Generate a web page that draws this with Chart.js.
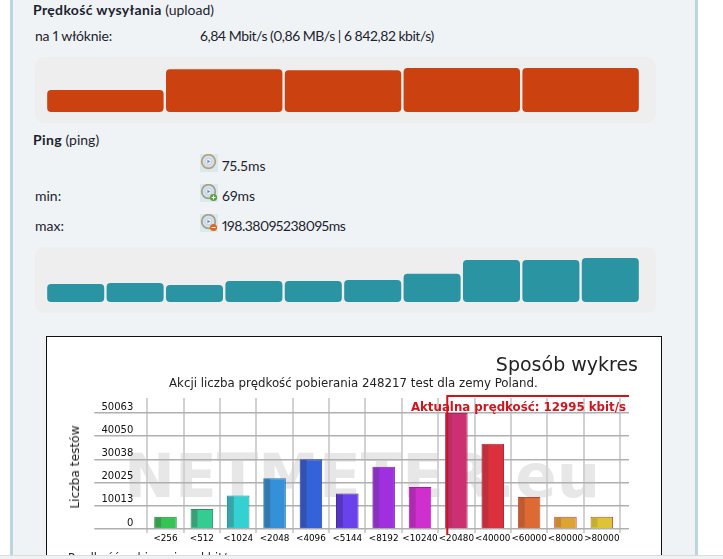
<!DOCTYPE html>
<html lang="pl">
<head>
<meta charset="utf-8">
<title>Prędkość</title>
<script src="https://cdn.jsdelivr.net/npm/chart.js@4/dist/chart.umd.min.js"></script>
<style>
html, body { margin: 0; padding: 0; background: #fff; overflow: hidden; }
#page { position: relative; width: 723px; height: 559px; overflow: hidden; background: #fff;
  font-family: Lato, sans-serif; font-size: 14px; color: #1c2330; font-variant-numeric: proportional-nums; }
#panel { position: absolute; left: 10px; top: 0; width: 682px; height: 559px; background: #eff3f5;
  border-left: 3px solid #bcd4dc; border-right: 3px solid #bcd4dc; }
.t { position: absolute; white-space: nowrap; line-height: 18px; }
.t b { letter-spacing: 0.35px; }
.box { position: absolute; left: 35px; width: 621px; height: 66px; background: #eeeeee; border-radius: 9px; }
.wrap { position: absolute; }
.ico { position: absolute; left: 200px; width: 18px; height: 18px; background: #d6eaef; }
#img { position: absolute; left: 46px; top: 336px; width: 616px; height: 240px; background: #fff;
  border: 1px solid #111; box-sizing: border-box; overflow: hidden; }
#mark { position: absolute; left: 124px; top: 441px; font: bold 61px "DejaVu Sans"; color: #e7e7e7; white-space: nowrap; line-height: 70px; }
.d { font-family: "DejaVu Sans"; color: #222; }
#ytitle { position: absolute; left: 75px; top: 467px; font-size: 12.2px; transform: translate(-50%, -50%) rotate(-90deg); }
#strip { position: absolute; left: 0; top: 555px; width: 723px; height: 4px; background: #f0f1f2; border-top: 1px solid #dcdcdc; }
</style>
</head>
<body>
<div id="page">
  <div id="panel"></div>

  <div class="t" style="left:33px;top:1px"><b>Prędkość wysyłania</b> (upload)</div>
  <div class="t" style="left:35px;top:27px;letter-spacing:-0.2px">na 1 włóknie:</div>
  <div class="t" style="left:200px;top:27px;letter-spacing:-0.48px">6,84 Mbit/s (0,86 MB/s | 6 842,82 kbit/s)</div>
  <div class="box" style="top:57px"></div>
  <div class="wrap" style="left:46px;top:57px;width:594px;height:55px"><canvas id="uploadChart"></canvas></div>

  <div class="t" style="left:33px;top:131px"><b>Ping</b> (ping)</div>
  <svg class="ico" style="top:154px" viewBox="0 0 18 18"><circle cx="8.5" cy="7.5" r="6.8" fill="#d3e0ee" stroke="#b8a27a" stroke-width="1.8"/><circle cx="8.5" cy="7.5" r="3.2" fill="#eef3f9" stroke="#a9bcd2" stroke-width="0.6"/><path d="M7.4 5.8l3 1.7-3 1.7z" fill="#76879c"/></svg>
  <div class="t" style="left:222px;top:157px">75.5ms</div>
  <div class="t" style="left:35px;top:187px">min:</div>
  <svg class="ico" style="top:184px" viewBox="0 0 18 18"><circle cx="8.5" cy="7.5" r="6.8" fill="#d3e0ee" stroke="#a89f86" stroke-width="1.8"/><circle cx="8.5" cy="7.5" r="3.2" fill="#eef3f9" stroke="#a9bcd2" stroke-width="0.6"/><path d="M7.4 5.8l3 1.7-3 1.7z" fill="#76879c"/><circle cx="13.5" cy="13.5" r="3.6" fill="#5c9e3c"/><path d="M11.5 13.5h4M13.5 11.5v4" stroke="#fff"/></svg>
  <div class="t" style="left:222px;top:187px">69ms</div>
  <div class="t" style="left:35px;top:217px">max:</div>
  <svg class="ico" style="top:214px" viewBox="0 0 18 18"><circle cx="8.5" cy="7.5" r="6.8" fill="#d3e0ee" stroke="#a89f86" stroke-width="1.8"/><circle cx="8.5" cy="7.5" r="3.2" fill="#eef3f9" stroke="#a9bcd2" stroke-width="0.6"/><path d="M7.4 5.8l3 1.7-3 1.7z" fill="#76879c"/><circle cx="13.5" cy="13.5" r="3.6" fill="#e2651f"/><path d="M11.5 13.5h4" stroke="#fff"/></svg>
  <div class="t" style="left:222px;top:217px;letter-spacing:-0.5px">198.38095238095ms</div>
  <div class="box" style="top:247px"></div>
  <div class="wrap" style="left:46px;top:247px;width:594px;height:55px"><canvas id="pingChart"></canvas></div>

  <div id="img"></div>
  <div id="mark">NETMETER.eu</div>
  <div class="wrap" style="left:46px;top:337px;width:614px;height:222px"><canvas id="mainChart"></canvas></div>
  <div class="t d" style="right:85px;top:352px;font-size:19px;line-height:24px">Sposób wykres</div>
  <div class="t d" style="left:169px;top:374px;font-size:11.8px">Akcji liczba prędkość pobierania 248217 test dla zemy Poland.</div>
  <div class="t d" id="ytitle">Liczba testów</div>
  <div class="t d" style="left:68px;top:549px;font-size:11.5px">Prędkość pobierania w kbit/s</div>
  <div id="strip"></div>
</div>

<script>
const uploadValues = [3.42, 6.65, 6.5, 6.84, 6.84];
const pingValues = [73, 77, 69, 85, 85, 89, 114, 170, 170, 178];

const speedLabels = ['<256', '<512', '<1024', '<2048', '<4096', '<5144', '<8192', '<10240', '<20480', '<40000', '<60000', '<80000', '>80000'];
const testCounts = [5340, 8650, 14430, 21930, 30150, 15290, 26830, 18180, 50063, 36790, 13850, 5340, 5340];
const countTicks = [0, 10013, 20025, 30038, 40050, 50063];

const barFills = ['#33c452', '#33cc91', '#33d1d1', '#3390d9', '#3362d9', '#6a42ec', '#a02fe0', '#d02fcf', '#cc3070', '#dc303c', '#de6a33', '#dea433', '#dcc433'];
const barEdges = ['#2a8a3f', '#2a9068', '#209090', '#2a70a8', '#2a45a0', '#4428a8', '#7428a8', '#a0209c', '#a82a5c', '#b02a38', '#b04a30', '#b85040', '#b85040'];
const barShades = ['#3a9a50', '#3a9f78', '#35a5a8', '#3478b0', '#3450b0', '#5535c0', '#8632bd', '#b02ab0', '#b8306a', '#be3040', '#c05a30', '#c88a30', '#c4b030'];

const currentSpeedLabel = 'Aktualna prędkość: 12995 kbit/s';
const currentSpeedIndex = 7.75;

function miniBars(id, values, color, maxValue, barShare) {
  new Chart(document.getElementById(id), {
    type: 'bar',
    data: {
      labels: values.map((_, i) => i + 1),
      datasets: [{ data: values, backgroundColor: color, borderRadius: 4, borderSkipped: false, barPercentage: barShare, categoryPercentage: 1 }]
    },
    options: {
      responsive: true,
      maintainAspectRatio: false,
      animation: false,
      layout: { padding: 0 },
      plugins: { legend: { display: false }, tooltip: { enabled: false } },
      scales: {
        x: { display: false },
        y: { display: false, min: 0, max: maxValue }
      }
    }
  });
}

miniBars('uploadChart', uploadValues, '#cb410f', 8.55, 0.98);
miniBars('pingChart', pingValues, '#2b94a2', 222.5, 0.96);

// left shade of each bar and the red marker for the current speed
const barExtras = {
  id: 'barExtras',
  afterDatasetsDraw(chart) {
    const c = chart.ctx, area = chart.chartArea;
    chart.getDatasetMeta(0).data.forEach((bar, i) => {
      const w = bar.width;
      c.fillStyle = barShades[i];
      c.fillRect(bar.x - w / 2 + 1, bar.y + 1, w * 0.26, bar.base - bar.y - 2);
    });
    const x = chart.scales.x.getPixelForValue(currentSpeedIndex);
    c.save();
    c.strokeStyle = '#d0141e';
    c.lineWidth = 2;
    c.beginPath();
    c.moveTo(x, area.bottom + 6);
    c.lineTo(x, area.top - 2);
    c.lineTo(area.right + 9, area.top - 2);
    c.stroke();
    c.fillStyle = '#d0141e';
    c.font = 'bold 11.8px "DejaVu Sans"';
    c.textAlign = 'right';
    c.textBaseline = 'middle';
    c.fillText(currentSpeedLabel, area.right + 6, area.top + 10);
    c.restore();
  }
};

function setCountTicks(scale) {
  scale.ticks = countTicks.map(v => ({ value: v }));
}

new Chart(document.getElementById('mainChart'), {
  type: 'bar',
  data: {
    labels: speedLabels,
    datasets: [{ data: testCounts, backgroundColor: barFills, borderColor: barEdges, borderWidth: 1, barPercentage: 0.62, categoryPercentage: 1 }]
  },
  plugins: [barExtras],
  options: {
    responsive: true,
    maintainAspectRatio: false,
    animation: false,
    layout: { padding: { top: 61, right: 31, left: 0, bottom: 0 } },
    plugins: { legend: { display: false }, tooltip: { enabled: false } },
    scales: {
      x: {
        border: { display: false },
        grid: { color: '#d2d2d2', lineWidth: 2, tickLength: 4 },
        ticks: { color: '#000', font: { size: 8.8, family: 'DejaVu Sans' }, padding: 0, maxRotation: 0, minRotation: 0, autoSkip: false },
        afterFit(scale) { scale.height = 30; }
      },
      y: {
        min: 0,
        max: 56537,
        afterBuildTicks: setCountTicks,
        afterFit(scale) { scale.width = 101.3; },
        border: { display: false },
        grid: { color: '#b0b0b0', lineWidth: 1.5, tickLength: 53 },
        ticks: { color: '#111', font: { size: 10, family: 'DejaVu Sans' }, crossAlign: 'near', labelOffset: -6, padding: -39, callback: v => v }
      },
      y2: {
        position: 'right',
        min: 0,
        max: 56537,
        afterBuildTicks: setCountTicks,
        afterFit(scale) { scale.width = 9; },
        border: { display: false },
        grid: { color: '#b0b0b0', lineWidth: 1.5, tickLength: 9, drawOnChartArea: false },
        ticks: { display: false }
      }
    }
  }
});
</script>
</body>
</html>
